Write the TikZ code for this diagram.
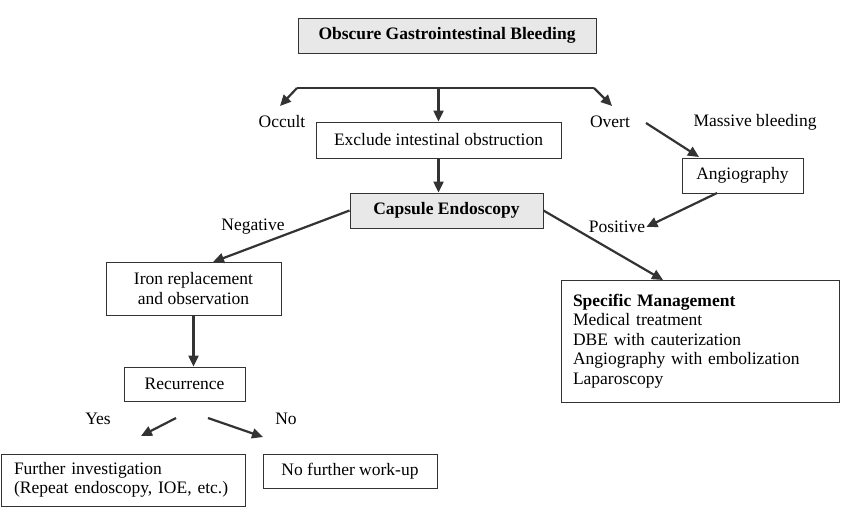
\documentclass[tikz,border=0pt]{standalone}
\usepackage{fontspec}
\setmainfont{Liberation Serif}
\usetikzlibrary{arrows.meta,positioning,calc}

\begin{document}
\begin{tikzpicture}[
  x=1pt,y=-1pt,
  >={Triangle[length=11pt,width=10pt]},
  plainbox/.style={draw=black!80,line width=0.9pt,fill=white,inner sep=0pt,
    font=\fontsize{17.5}{19.5}\selectfont,align=center},
  keybox/.style={plainbox,fill=gray!18,font=\fontsize{17.5}{19.5}\selectfont\bfseries},
  tag/.style={inner sep=1pt,font=\fontsize{17.5}{19.5}\selectfont},
  flow/.style={->,line width=2.2pt,draw=black!80},
  branch/.style={line width=1.4pt,draw=black!80}
]
\useasboundingbox (0,0) rectangle (850,515);
\node[keybox,minimum width=298pt,minimum height=35pt] (bleeding) at (447,35.5)
  {Obscure Gastrointestinal Bleeding};
\node[plainbox,minimum width=245pt,minimum height=36pt] (obstruction) at (438.5,140)
  {Exclude intestinal obstruction};
\node[keybox,minimum width=193pt,minimum height=35pt] (capsule) at (446.5,210.5)
  {Capsule Endoscopy};
\node[plainbox,minimum width=175pt,minimum height=53pt] (iron) at (193.5,288.5)
  {Iron replacement\\and observation};
\node[plainbox,minimum width=121pt,minimum height=34pt] (recurrence) at (184.5,384)
  {Recurrence};
\node[plainbox,align=left,text width=218pt,inner xsep=13pt,minimum height=52pt] (further) at (123,480)
  {Further investigation\\(Repeat endoscopy, IOE, etc.)};
\node[plainbox,minimum width=174pt,minimum height=34pt] (nowork) at (350,471)
  {No further work-up};
\node[plainbox,minimum width=121pt,minimum height=35pt] (angio) at (742.5,175.5)
  {Angiography};
\node[plainbox,align=left,text width=254pt,inner xsep=12pt,minimum height=122pt] (specific) at (700,341)
  {\textbf{Specific Management}\\Medical treatment\\DBE with cauterization\\
   Angiography with embolization\\Laparoscopy};
\node[tag] (occult) at (282,122) {Occult};
\node[tag] (overt) at (610,122) {Overt};
\node[tag] (massive) at (755,122) {Massive bleeding};
\node[tag] (negative) at (253,227) {Negative};
\node[tag] (positive) at (617,227) {Positive};
\node[tag] (yes) at (98,419) {Yes};
\node[tag] (no) at (286,419) {No};
\coordinate (splitL) at (297,88);
\coordinate (splitR) at (594,88);
\coordinate (occultTip) at (280,106);
\coordinate (overtTip) at (612,106);
\coordinate (massiveStart) at (646,123);
\coordinate (angioTop) at (699,157);
\coordinate (angioOut) at (717,193);
\coordinate (ironTop) at (213,262);
\coordinate (specificTop) at (663,280);
\coordinate (yesStart) at (176,418);
\coordinate (yesTip) at (141,436);
\coordinate (noStart) at (208,418);
\coordinate (noTip) at (263,437);
\draw[branch] (splitL)--(splitR);
\draw[flow] (splitL)--(occultTip);
\draw[flow] (splitR)--(overtTip);
\draw[flow] (splitL -| obstruction.north)--(obstruction.north);
\draw[flow] (obstruction.south)--(obstruction.south |- capsule.north);
\draw[flow] (capsule.west)--(ironTop);
\draw[flow] (capsule.east)--(specificTop);
\draw[flow] (iron.south)--(iron.south |- recurrence.north);
\draw[flow] (yesStart)--(yesTip);
\draw[flow] (noStart)--(noTip);
\draw[flow] (massiveStart)--(angioTop);
\draw[flow] (angioOut)--(positive.east);
\end{tikzpicture}
\end{document}
